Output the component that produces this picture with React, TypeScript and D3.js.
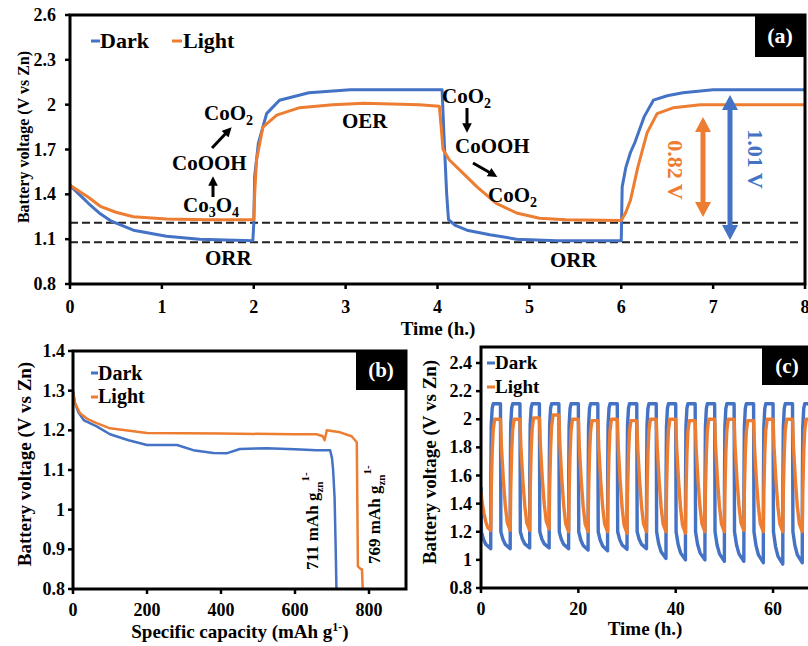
import React from "react";
import * as d3 from "d3";

const BLUE = "#4472C4";
const ORANGE = "#ED7D31";
const FONT = "'Liberation Serif', 'Times New Roman', serif";

// ---- panel (a): voltage vs time, one dark / light run ----
const aDarkT = [0, 0.1, 0.2, 0.33, 0.45, 0.69, 1.05, 1.41, 1.99, 2.0, 2.01, 2.05, 2.14, 2.28, 2.6, 3.05, 4.05, 4.07, 4.1, 4.12, 4.2, 4.32, 4.57, 4.86, 5.3, 6.0, 6.01, 6.05, 6.1, 6.15, 6.25, 6.35, 6.5, 6.67, 7.0, 8.0];
const aDarkV = [1.46, 1.4, 1.34, 1.27, 1.22, 1.16, 1.12, 1.1, 1.09, 1.2, 1.52, 1.74, 1.94, 2.03, 2.08, 2.1, 2.1, 1.8, 1.4, 1.23, 1.19, 1.16, 1.13, 1.1, 1.09, 1.09, 1.45, 1.58, 1.68, 1.75, 1.92, 2.03, 2.06, 2.08, 2.1, 2.1];
const aLightT = [0, 0.1, 0.2, 0.33, 0.5, 0.69, 1.05, 1.5, 2.0, 2.01, 2.03, 2.1, 2.25, 2.5, 2.86, 3.2, 3.8, 4.02, 4.04, 4.06, 4.13, 4.28, 4.43, 4.64, 4.86, 5.11, 5.4, 6.0, 6.05, 6.1, 6.18, 6.28, 6.39, 6.57, 6.86, 8.0];
const aLightV = [1.46, 1.42, 1.38, 1.32, 1.28, 1.25, 1.235, 1.23, 1.23, 1.4, 1.63, 1.85, 1.93, 1.98, 2.0, 2.01, 2.0, 1.99, 1.85, 1.7, 1.63, 1.54, 1.45, 1.34, 1.275, 1.24, 1.23, 1.225, 1.28, 1.36, 1.58, 1.81, 1.94, 1.98, 2.0, 2.0];
const aRefLines = [1.21, 1.08];
const aXTicks = [0, 1, 2, 3, 4, 5, 6, 7, 8];
const aYTicks = [0.8, 1.1, 1.4, 1.7, 2, 2.3, 2.6];

// ---- panel (b): discharge capacity ----
const bDarkC = [0, 5, 15, 30, 64, 100, 150, 200, 281, 325, 379, 415, 451, 523, 600, 658, 695, 700, 703, 707, 710, 712];
const bDarkV = [1.3, 1.27, 1.245, 1.225, 1.21, 1.19, 1.175, 1.163, 1.163, 1.15, 1.143, 1.142, 1.153, 1.155, 1.152, 1.15, 1.15, 1.13, 1.1, 1.03, 0.9, 0.8];
const bLightC = [0, 5, 19, 40, 64, 100, 200, 400, 600, 658, 675, 680, 686, 722, 753, 767, 770, 778, 781, 783];
const bLightV = [1.297, 1.27, 1.243, 1.228, 1.218, 1.205, 1.193, 1.192, 1.19, 1.19, 1.185, 1.175, 1.2, 1.195, 1.185, 1.17, 0.857, 0.85, 0.85, 0.8];
const bXTicks = [0, 200, 400, 600, 800];
const bYTicks = [0.8, 0.9, 1, 1.1, 1.2, 1.3, 1.4];

// ---- panel (c): cycling, 2 h discharge + 2 h charge per cycle ----
const cCycleHours = 4;
const cDarkStart = 1.52;
const cLightStart = 1.48;
const cDarkKnee = 1.2;
const cDarkLow = [1.08, 1.08, 1.085, 1.085, 1.08, 1.07, 1.065, 1.075, 1.08, 1.01, 1.0, 1.0, 0.99, 0.99, 0.98, 0.97, 0.98];
const cDarkHigh = [2.11, 2.11, 2.11, 2.11, 2.11, 2.11, 2.11, 2.11, 2.11, 2.11, 2.11, 2.11, 2.11, 2.11, 2.11, 2.11, 2.11];
const cLightLow = [1.21, 1.21, 1.21, 1.22, 1.2, 1.2, 1.2, 1.19, 1.2, 1.2, 1.19, 1.2, 1.2, 1.21, 1.2, 1.2, 1.2];
const cLightHigh = [2.0, 2.0, 2.01, 2.03, 2.0, 1.99, 2.0, 1.99, 2.0, 2.0, 1.99, 2.0, 2.0, 1.99, 2.0, 2.0, 2.0];
// shape of one cycle: [hours into cycle, fraction]
const cDarkDischarge = [[0.08, 1], [0.5, 0.55], [1.0, 0.25], [2.0, 0]];
const cDarkCharge = [[2.02, 0.5], [2.1, 0.85], [2.3, 0.97], [2.5, 1], [4.0, 1]];
const cLightDischarge = [[0.2, 0.75], [0.6, 0.45], [1.0, 0.22], [1.4, 0.07], [2.0, 0]];
const cLightCharge = [[2.1, 0.35], [2.3, 0.7], [2.5, 0.9], [2.8, 1], [4.0, 1]];
const cXTicks = [0, 20, 40, 60];
const cYTicks = [0.8, 1, 1.2, 1.4, 1.6, 1.8, 2, 2.2, 2.4];

function buildCycles(start: number, lows: number[], highs: number[], dis: number[][], chg: number[][], knee: number | null) {
  const pts: [number, number][] = [[0, start]];
  lows.forEach((lo, k) => {
    const t0 = k * cCycleHours;
    const hi = highs[k];
    const prevHi = k === 0 ? start : highs[k - 1];
    if (k > 0) pts.push([t0, prevHi]);
    dis.forEach(([dt, f]) => {
      const top = knee == null ? prevHi : knee;
      pts.push([t0 + dt, lo + (top - lo) * f]);
    });
    chg.forEach(([dt, f]) => pts.push([t0 + dt, lo + (hi - lo) * f]));
  });
  return pts;
}

const W = 808;
const H = 646;

type Box = { x0: number; x1: number; y0: number; y1: number };

function Frame({ b }: { b: Box }) {
  return <rect x={b.x0} y={b.y0} width={b.x1 - b.x0} height={b.y1 - b.y0} fill="none" stroke="#000" strokeWidth={3} />;
}

function Tag({ x, y, w, h, label, size }: { x: number; y: number; w: number; h: number; label: string; size: number }) {
  return (
    <g>
      <rect x={x} y={y} width={w} height={h} fill="#000" />
      <text x={x + w / 2} y={y + h / 2 + size * 0.33} textAnchor="middle" fill="#fff" fontSize={size} fontWeight="bold">{label}</text>
    </g>
  );
}

function Arrow({ x1, y1, x2, y2 }: { x1: number; y1: number; x2: number; y2: number }) {
  return <line x1={x1} y1={y1} x2={x2} y2={y2} stroke="#000" strokeWidth={3} markerEnd="url(#head)" />;
}

function DoubleArrow({ x, y1, y2, color }: { x: number; y1: number; y2: number; color: string }) {
  const hw = 8;
  const hl = 15;
  return (
    <g fill={color}>
      <line x1={x} y1={y1 + hl - 2} x2={x} y2={y2 - hl + 2} stroke={color} strokeWidth={5} />
      <polygon points={`${x},${y1} ${x - hw},${y1 + hl} ${x + hw},${y1 + hl}`} />
      <polygon points={`${x},${y2} ${x - hw},${y2 - hl} ${x + hw},${y2 - hl}`} />
    </g>
  );
}

export default function App() {
  // panel (a)
  const aBox = { x0: 70, x1: 805, y0: 15, y1: 284 };
  const ax = d3.scaleLinear().domain([0, 8]).range([70, 805]);
  const ay = d3.scaleLinear().domain([0.8, 2.6]).range([284, 15]);
  const aLine = d3.line<[number, number]>().x((d) => ax(d[0])).y((d) => ay(d[1]));
  const aDark = d3.zip(aDarkT, aDarkV) as [number, number][];
  const aLight = d3.zip(aLightT, aLightV) as [number, number][];

  // panel (b)
  const bBox = { x0: 73, x1: 406, y0: 351, y1: 589 };
  const bx = d3.scaleLinear().domain([0, 900]).range([73, 406]);
  const by = d3.scaleLinear().domain([0.8, 1.4]).range([589, 351]);
  const bLine = d3.line<[number, number]>().x((d) => bx(d[0])).y((d) => by(d[1]));
  const bDark = d3.zip(bDarkC, bDarkV) as [number, number][];
  const bLight = d3.zip(bLightC, bLightV) as [number, number][];

  // panel (c)
  const cBox = { x0: 481, x1: 812, y0: 347, y1: 588 };
  const cx = d3.scaleLinear().domain([0, 68]).range([481, 812]);
  const cy = d3.scaleLinear().domain([0.8, 2.4]).range([588, 363]);
  const cLine = d3.line<[number, number]>().x((d) => cx(d[0])).y((d) => cy(d[1]));
  const cDark = buildCycles(cDarkStart, cDarkLow, cDarkHigh, cDarkDischarge, cDarkCharge, cDarkKnee);
  const cLight = buildCycles(cLightStart, cLightLow, cLightHigh, cLightDischarge, cLightCharge, null);

  const tickFont = 18;

  return (
    <svg width={W} height={H} style={{ position: "absolute", left: 0, top: 0, background: "#fff" }} fontFamily={FONT} fontWeight="bold">
      <defs>
        <marker id="head" viewBox="0 0 10 10" refX="6" refY="5" markerWidth="3.2" markerHeight="3.2" orient="auto">
          <path d="M0,0 L10,5 L0,10 z" fill="#000" />
        </marker>
        <clipPath id="clipA"><rect x={aBox.x0} y={aBox.y0} width={aBox.x1 - aBox.x0} height={aBox.y1 - aBox.y0} /></clipPath>
        <clipPath id="clipB"><rect x={bBox.x0} y={bBox.y0} width={bBox.x1 - bBox.x0} height={bBox.y1 - bBox.y0} /></clipPath>
        <clipPath id="clipC"><rect x={cBox.x0} y={cBox.y0} width={cBox.x1 - cBox.x0} height={cBox.y1 - cBox.y0} /></clipPath>
      </defs>
      <rect width={W} height={H} fill="#fff" />

      {/* ===== panel (a) ===== */}
      <g>
        {aRefLines.map((v) => (
          <line key={v} x1={ax(0)} x2={ax(7.95)} y1={ay(v)} y2={ay(v)} stroke="#222" strokeWidth={2} strokeDasharray="8,4" />
        ))}
        <g clipPath="url(#clipA)" fill="none" strokeWidth={3} strokeLinejoin="round">
          <path d={aLine(aDark) || ""} stroke={BLUE} />
          <path d={aLine(aLight) || ""} stroke={ORANGE} />
        </g>
        <Frame b={aBox} />
        {aXTicks.map((t) => (
          <g key={t}>
            <line x1={ax(t)} x2={ax(t)} y1={284} y2={289} stroke="#000" strokeWidth={2.5} />
            <text x={ax(t)} y={313} textAnchor="middle" fontSize={tickFont}>{t}</text>
          </g>
        ))}
        {aYTicks.map((t) => (
          <g key={t}>
            <line x1={65} x2={70} y1={ay(t)} y2={ay(t)} stroke="#000" strokeWidth={2.5} />
            <text x={56} y={ay(t) + 6} textAnchor="end" fontSize={tickFont}>{t}</text>
          </g>
        ))}
        <text transform="translate(29,137) rotate(-90)" textAnchor="middle" fontSize={16}>Battery voltage (V vs Zn)</text>
        <text x={438} y={335} textAnchor="middle" fontSize={19}>Time (h.)</text>

        {/* legend */}
        <line x1={91} x2={100} y1={41} y2={41} stroke={BLUE} strokeWidth={3} />
        <text x={100} y={48} fontSize={22}>Dark</text>
        <line x1={172} x2={182} y1={41} y2={41} stroke={ORANGE} strokeWidth={3} />
        <text x={183} y={48} fontSize={22}>Light</text>
        <Tag x={755} y={15} w={50} h={42} label="(a)" size={22} />

        {/* reaction annotations */}
        <g fontSize={21}>
          <text x={204} y={120}>CoO<tspan fontSize={14} dy={5}>2</tspan></text>
          <text x={172} y={170}>CoOOH</text>
          <text x={183} y={212}>Co<tspan fontSize={14} dy={5}>3</tspan><tspan dy={-5}>O</tspan><tspan fontSize={14} dy={5}>4</tspan></text>
          <text x={342} y={128}>OER</text>
          <text x={205} y={265}>ORR</text>
          <text x={442} y={103}>CoO<tspan fontSize={14} dy={5}>2</tspan></text>
          <text x={455} y={153}>CoOOH</text>
          <text x={488} y={202}>CoO<tspan fontSize={14} dy={5}>2</tspan></text>
          <text x={550} y={267}>ORR</text>
        </g>
        <Arrow x1={212} y1={148} x2={229} y2={130} />
        <Arrow x1={213} y1={197} x2={213} y2={180} />
        <Arrow x1={467} y1={108} x2={467} y2={129} />
        <Arrow x1={473} y1={163} x2={494} y2={175} />

        <DoubleArrow x={703} y1={117} y2={217} color={ORANGE} />
        <DoubleArrow x={730} y1={95} y2={240} color={BLUE} />
        <text transform="translate(668,170) rotate(90)" textAnchor="middle" fontSize={22} fill={ORANGE}>0.82 V</text>
        <text transform="translate(748,159) rotate(90)" textAnchor="middle" fontSize={22} fill={BLUE}>1.01 V</text>
      </g>

      {/* ===== panel (b) ===== */}
      <g>
        <g clipPath="url(#clipB)" fill="none" strokeWidth={2.5} strokeLinejoin="round">
          <path d={bLine(bDark) || ""} stroke={BLUE} />
          <path d={bLine(bLight) || ""} stroke={ORANGE} />
        </g>
        <Frame b={bBox} />
        {bXTicks.map((t) => (
          <g key={t}>
            <line x1={bx(t)} x2={bx(t)} y1={589} y2={594} stroke="#000" strokeWidth={2.5} />
            <text x={bx(t)} y={616} textAnchor="middle" fontSize={tickFont}>{t}</text>
          </g>
        ))}
        {bYTicks.map((t) => (
          <g key={t}>
            <line x1={68} x2={73} y1={by(t)} y2={by(t)} stroke="#000" strokeWidth={2.5} />
            <text x={65} y={by(t) + 6} textAnchor="end" fontSize={tickFont}>{t}</text>
          </g>
        ))}
        <text transform="translate(31,464) rotate(-90)" textAnchor="middle" fontSize={19}>Battery voltage (V vs Zn)</text>
        <text x={240} y={638} textAnchor="middle" fontSize={19}>
          Specific capacity (mAh g<tspan fontSize={12} dy={-7}>1-</tspan><tspan dy={7}>)</tspan>
        </text>
        <line x1={91} x2={98} y1={373} y2={373} stroke={BLUE} strokeWidth={3} />
        <text x={98} y={380} fontSize={20}>Dark</text>
        <line x1={91} x2={98} y1={397} y2={397} stroke={ORANGE} strokeWidth={3} />
        <text x={98} y={403} fontSize={20}>Light</text>
        <Tag x={356} y={351} w={50} h={39} label="(b)" size={21} />
        <text transform="translate(318,570) rotate(-90)" fontSize={17}>
          711 mAh g<tspan fontSize={11} dy={5}>zn</tspan><tspan fontSize={11} dy={-14}>1-</tspan>
        </text>
        <text transform="translate(380,564) rotate(-90)" fontSize={17}>
          769 mAh g<tspan fontSize={11} dy={5}>zn</tspan><tspan fontSize={11} dy={-14}>1-</tspan>
        </text>
      </g>

      {/* ===== panel (c) ===== */}
      <g>
        <g clipPath="url(#clipC)" fill="none" strokeWidth={3.4} strokeLinejoin="round">
          <path d={cLine(cDark) || ""} stroke={BLUE} />
          <path d={cLine(cLight) || ""} stroke={ORANGE} />
        </g>
        <Frame b={cBox} />
        {cXTicks.map((t) => (
          <g key={t}>
            <line x1={cx(t)} x2={cx(t)} y1={588} y2={593} stroke="#000" strokeWidth={2.5} />
            <text x={cx(t)} y={615} textAnchor="middle" fontSize={tickFont}>{t}</text>
          </g>
        ))}
        {cYTicks.map((t) => (
          <g key={t}>
            <line x1={476} x2={481} y1={cy(t)} y2={cy(t)} stroke="#000" strokeWidth={2.5} />
            <text x={472} y={cy(t) + 6} textAnchor="end" fontSize={tickFont}>{t}</text>
          </g>
        ))}
        <text transform="translate(436,462) rotate(-90)" textAnchor="middle" fontSize={19}>Battery voltage (V vs Zn)</text>
        <text x={645} y={635} textAnchor="middle" fontSize={19}>Time (h.)</text>
        <line x1={487} x2={495} y1={363} y2={363} stroke={BLUE} strokeWidth={3} />
        <text x={495} y={369} fontSize={19}>Dark</text>
        <line x1={487} x2={495} y1={387} y2={387} stroke={ORANGE} strokeWidth={3} />
        <text x={495} y={393} fontSize={19}>Light</text>
        <Tag x={762} y={347} w={50} h={38} label="(c)" size={21} />
      </g>
    </svg>
  );
}
